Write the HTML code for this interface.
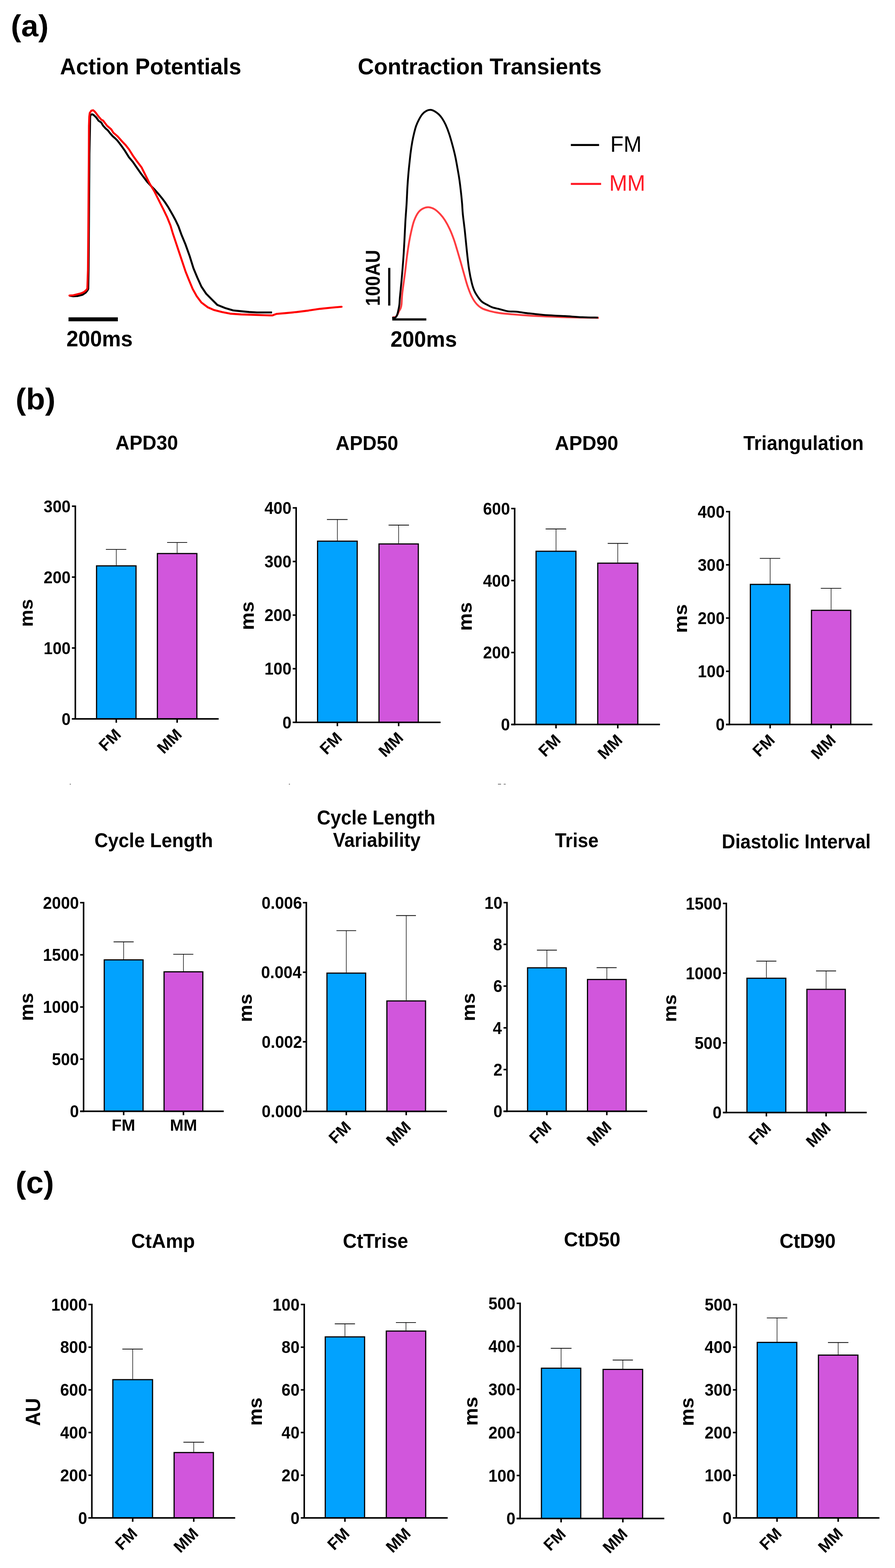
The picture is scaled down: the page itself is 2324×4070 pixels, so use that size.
<!DOCTYPE html>
<html><head><meta charset="utf-8"><title>Figure</title>
<style>
html,body{margin:0;padding:0;background:#fff;}
svg{display:block;}
text{font-family:'Liberation Sans', Arial, sans-serif;fill:#000;font-size:100px;}
text.b{font-weight:bold;}
text.r{font-weight:normal;}
</style></head>
<body>
<svg width="2324" height="4070" viewBox="0 0 2324 4070">
<rect width="2324" height="4070" fill="#fff"/>
<text class="b" transform="translate(28.19 93.55) scale(0.8021 0.7814)">(a)</text>
<text class="b" transform="translate(40.44 1062.83) scale(0.8114 0.7728)">(b)</text>
<text class="b" transform="translate(40.52 3097.35) scale(0.8164 0.7910)">(c)</text>
<text class="b" transform="translate(155.76 193.21) scale(0.5765 0.5891)">Action Potentials</text>
<text class="b" transform="translate(928.91 192.91) scale(0.5817 0.5918)">Contraction Transients</text>
<polyline points="180,767.5 190,769 201,768.5 214.6,765 222,760 227,754 229.1,750 230,700 231.1,560 232.2,400 233.5,340 234,305 234.5,300 236.5,297.5 238.9,296.6 241.5,297.5 244.6,299.7 249.6,304.6 256.2,313.7 262.8,317.8 267.7,326.1 274.3,333.5 280.1,338.4 285.8,345.8 292.4,353.3 299,359 304.8,364.8 308.9,370 314.2,377.1 324.5,391.6 334.8,408.1 345.1,420.4 355.5,435.5 364.8,448.9 372,458.5 381.3,470.9 391.5,482 402.2,492.9 411.5,503.5 420.9,514.8 428.5,525 436.3,536.8 442.5,547.5 448.9,558.8 455.5,571 463.3,587.4 471.5,610.1 481.8,634.8 492.1,663.6 502.4,696.6 512.7,721.3 523,744 535.4,762.5 549.8,777 564.2,791.4 584.8,799.6 605.5,805.8 626.1,807.9 646.7,809.9 667.3,811 706.4,811" fill="none" stroke="#000" stroke-width="5.1" stroke-linejoin="round" stroke-linecap="butt"/>
<polyline points="180.3,767 190,766.5 200,764 210,761.5 218,758 224,753 226.8,749 228.4,700 229.6,560 230.7,400 231,327.7 231.8,303 233.1,293.1 237.2,287.3 241.7,286.1 245.4,289 249.6,293.9 253.7,299.7 257.8,304.6 262.8,310.4 267.7,312.9 272.7,319.5 277.6,326.1 283.4,331 289.1,336 294.1,344.2 299.9,349.1 305.6,354.1 311.4,360.7 317.2,367.3 326.6,377.1 334.8,387.5 345.1,403.9 355.5,418.4 367.8,434.8 378.1,455.5 388.4,476.1 400.8,496.7 409,513.1 421.4,537.9 424.1,543.1 434.4,564.7 442.7,585.3 448.8,605.9 457.1,630.7 465.3,655.4 473.6,680.1 481.8,704.8 490.1,725.5 500.4,750.2 510.7,768.7 523,785.2 539.5,797.6 556,804.8 576.6,809.9 597.2,814.1 626.1,816.1 657,817.1 687.9,818.2 700,818.6 707.2,818.8 712,816.8 717.8,814.8 740.4,812.9 770.7,809.9 800.9,806.1 831.1,801.6 861.3,798.5 887,796.3" fill="none" stroke="#FF0000" stroke-width="5.1" stroke-linejoin="round" stroke-linecap="round"/>
<path d="M1019.6,823.6 C1020.83,823.42 1024.93,823.6 1027,822.5 C1029.07,821.4 1030.5,819.42 1032,817 C1033.5,814.58 1034.63,810.78 1036,808 C1037.37,805.22 1039.1,803.3 1040.2,800.3 C1041.3,797.3 1041.87,796.55 1042.6,790 C1043.33,783.45 1043.07,774.75 1044.6,761 C1046.13,747.25 1049.72,723.85 1051.8,707.5 C1053.88,691.15 1055.32,676.3 1057.1,662.9 C1058.88,649.5 1060.7,637.52 1062.5,627.1 C1064.3,616.68 1065.82,609.32 1067.9,600.4 C1069.98,591.48 1072.03,581.65 1075,573.6 C1077.97,565.55 1081.83,557.47 1085.7,552.1 C1089.57,546.73 1093.73,543.77 1098.2,541.4 C1102.67,539.03 1107.43,537.6 1112.5,537.9 C1117.57,538.2 1123.53,540.23 1128.6,543.2 C1133.67,546.17 1138.43,550.93 1142.9,555.7 C1147.37,560.47 1151.23,565.25 1155.4,571.8 C1159.57,578.35 1164.03,586.67 1167.9,595 C1171.77,603.33 1175.33,612.57 1178.6,621.8 C1181.87,631.03 1184.53,640.58 1187.5,650.4 C1190.47,660.22 1193.42,670.28 1196.4,680.7 C1199.38,691.12 1202.42,702.48 1205.4,712.9 C1208.38,723.32 1211.03,733.68 1214.3,743.2 C1217.57,752.72 1221.13,762.37 1225,770 C1228.87,777.63 1233,783.92 1237.5,789 C1242,794.08 1245.92,797.33 1252,800.5 C1258.08,803.67 1266.55,806 1274,808 C1281.45,810 1287.25,811.18 1296.7,812.5 C1306.15,813.82 1317.48,814.77 1330.7,815.9 C1343.92,817.03 1360.9,818.35 1376,819.3 C1391.1,820.25 1406.18,820.92 1421.3,821.6 C1436.42,822.28 1451.58,822.95 1466.7,823.4 C1481.82,823.85 1497.28,824.03 1512,824.3 C1526.72,824.57 1547.83,824.88 1555,825" fill="none" stroke="#FF3C40" stroke-width="4.8"/>
<path d="M1018.2,824.8 C1019.5,824.75 1024.12,825.13 1026,824.5 C1027.88,823.87 1028.45,822.75 1029.5,821 C1030.55,819.25 1031.32,817.45 1032.3,814 C1033.28,810.55 1034.6,804.3 1035.4,800.3 C1036.2,796.3 1036.6,794.72 1037.1,790 C1037.6,785.28 1037.43,782.77 1038.4,772 C1039.37,761.23 1041.42,742.1 1042.9,725.4 C1044.38,708.7 1046.12,688.18 1047.3,671.8 C1048.48,655.42 1049.1,643.47 1050,627.1 C1050.9,610.73 1051.75,589.78 1052.7,573.6 C1053.65,557.42 1054.82,544.88 1055.7,530 C1056.58,515.12 1057.17,497.87 1058,484.3 C1058.83,470.73 1059.8,459.02 1060.7,448.6 C1061.6,438.18 1062.45,430.73 1063.4,421.8 C1064.35,412.87 1065.22,403.93 1066.4,395 C1067.58,386.07 1069.07,376.23 1070.5,368.2 C1071.93,360.17 1073.35,353.65 1075,346.8 C1076.65,339.95 1078.32,333.05 1080.4,327.1 C1082.48,321.15 1084.83,316.15 1087.5,311.1 C1090.17,306.05 1093.13,300.67 1096.4,296.8 C1099.67,292.93 1103.52,289.83 1107.1,287.9 C1110.68,285.97 1114.32,285.05 1117.9,285.2 C1121.48,285.35 1125.03,286.87 1128.6,288.8 C1132.17,290.73 1136.03,293.68 1139.3,296.8 C1142.57,299.92 1145.23,303.03 1148.2,307.5 C1151.17,311.97 1154.12,317.05 1157.1,323.6 C1160.08,330.15 1163.12,337.88 1166.1,346.8 C1169.08,355.72 1172.33,367.28 1175,377.1 C1177.67,386.92 1180.02,396.17 1182.1,405.7 C1184.18,415.23 1185.7,424.18 1187.5,434.3 C1189.3,444.42 1191.27,455.1 1192.9,466.4 C1194.53,477.7 1196.12,491.5 1197.3,502.1 C1198.48,512.7 1199.25,521.07 1200,530 C1200.75,538.93 1200.62,543.97 1201.8,555.7 C1202.98,567.43 1205.32,584.03 1207.1,600.4 C1208.88,616.77 1210.7,637.53 1212.5,653.9 C1214.3,670.27 1215.82,685.2 1217.9,698.6 C1219.98,712 1222.63,724.78 1225,734.3 C1227.37,743.82 1229.27,749.42 1232.1,755.7 C1234.93,761.98 1238.8,767.43 1242,772 C1245.2,776.57 1247.85,780.12 1251.3,783.1 C1254.75,786.08 1258.17,787.45 1262.7,789.9 C1267.23,792.35 1272.83,795.73 1278.5,797.8 C1284.17,799.87 1289.9,800.6 1296.7,802.3 C1303.5,804 1311.75,806.87 1319.3,808 C1326.85,809.13 1334.43,808.35 1342,809.1 C1349.57,809.85 1357.15,811.55 1364.7,812.5 C1372.25,813.45 1377.87,813.85 1387.3,814.8 C1396.73,815.75 1408.07,817.25 1421.3,818.2 C1434.53,819.15 1451.58,819.63 1466.7,820.5 C1481.82,821.37 1497.65,822.77 1512,823.4 C1526.35,824.03 1546,824.15 1552.8,824.3" fill="none" stroke="#000" stroke-width="4.8"/>
<rect x="177.9" y="823.7" width="128.1" height="10.3" fill="#000"/>
<text class="b" transform="translate(172.46 899.42) scale(0.5530 0.5819)">200ms</text>
<rect x="1007.9" y="695.4" width="5.7" height="97.8" fill="#000"/>
<rect x="1018.6" y="826.3" width="88.4" height="5.7" fill="#000"/>
<text class="b" transform="translate(1013.96 900.12) scale(0.5543 0.5805)">200ms</text>
<text class="b" transform="translate(986.29 794.35) rotate(-90) scale(0.4677 0.5099)">100AU</text>
<line x1="1482.3" y1="376.3" x2="1555.6" y2="376.3" stroke="#000" stroke-width="5.3"/>
<text class="r" transform="translate(1584.79 394) scale(0.5625 0.5828)">FM</text>
<line x1="1482.3" y1="477.3" x2="1560.9" y2="477.3" stroke="#FF1A26" stroke-width="5.3"/>
<text class="r" transform="translate(1581.99 494.8) scale(0.5619 0.5814)" style="fill:#FF1A26">MM</text>
<text class="b" transform="translate(299.84 1166.7) scale(0.5041 0.5140)">APD30</text>
<line x1="301.95" y1="1467.3" x2="301.95" y2="1426.1" stroke="#000" stroke-width="1.4"/>
<line x1="274.9" y1="1426.1" x2="327.9" y2="1426.1" stroke="#000" stroke-width="1.9"/>
<rect x="250.7" y="1468.8" width="102.5" height="397.2" fill="#02A2FE" stroke="#000" stroke-width="3"/>
<line x1="459.95" y1="1435.3" x2="459.95" y2="1408.1" stroke="#000" stroke-width="1.4"/>
<line x1="434" y1="1408.1" x2="486.1" y2="1408.1" stroke="#000" stroke-width="1.9"/>
<rect x="408.7" y="1436.8" width="102.5" height="429.2" fill="#D156DC" stroke="#000" stroke-width="3"/>
<line x1="195.6" y1="1311.9" x2="195.6" y2="1868" stroke="#000" stroke-width="4.0"/>
<line x1="186.7" y1="1313.9" x2="195.6" y2="1313.9" stroke="#000" stroke-width="4.0"/>
<text class="b" transform="translate(113.37 1329.54) scale(0.42 0.435)">300</text>
<line x1="186.7" y1="1497.93" x2="195.6" y2="1497.93" stroke="#000" stroke-width="4.0"/>
<text class="b" transform="translate(113.37 1513.6) scale(0.42 0.435)">200</text>
<line x1="186.7" y1="1681.97" x2="195.6" y2="1681.97" stroke="#000" stroke-width="4.0"/>
<text class="b" transform="translate(113.37 1697.63) scale(0.42 0.435)">100</text>
<line x1="186.7" y1="1866" x2="195.6" y2="1866" stroke="#000" stroke-width="4.0"/>
<text class="b" transform="translate(160.07 1881.66) scale(0.42 0.435)">0</text>
<line x1="186.7" y1="1866" x2="567.8" y2="1866" stroke="#000" stroke-width="4.0"/>
<line x1="301.95" y1="1866" x2="301.95" y2="1876" stroke="#000" stroke-width="4.0"/>
<text x="316.65" y="1909.2" text-anchor="end" class="b" style="font-size:42px" transform="rotate(-45 316.65 1909.2)">FM</text>
<line x1="459.95" y1="1866" x2="459.95" y2="1876" stroke="#000" stroke-width="4.0"/>
<text x="474.65" y="1909.2" text-anchor="end" class="b" style="font-size:42px" transform="rotate(-45 474.65 1909.2)">MM</text>
<text class="b" transform="translate(85.41 1627.21) rotate(-90) scale(0.5015 0.4900)">ms</text>
<text class="b" transform="translate(871.54 1167.6) scale(0.5041 0.5140)">APD50</text>
<line x1="876.05" y1="1403.2" x2="876.05" y2="1348.5" stroke="#000" stroke-width="1.4"/>
<line x1="848.9" y1="1348.5" x2="902.5" y2="1348.5" stroke="#000" stroke-width="1.9"/>
<rect x="824.6" y="1404.7" width="102.9" height="470.2" fill="#02A2FE" stroke="#000" stroke-width="3"/>
<line x1="1035.15" y1="1410.4" x2="1035.15" y2="1363" stroke="#000" stroke-width="1.4"/>
<line x1="1009" y1="1363" x2="1062" y2="1363" stroke="#000" stroke-width="1.9"/>
<rect x="984.1" y="1411.9" width="102.1" height="463" fill="#D156DC" stroke="#000" stroke-width="3"/>
<line x1="769" y1="1316.3" x2="769" y2="1876.9" stroke="#000" stroke-width="4.0"/>
<line x1="760.1" y1="1318.3" x2="769" y2="1318.3" stroke="#000" stroke-width="4.0"/>
<text class="b" transform="translate(686.77 1333.96) scale(0.42 0.435)">400</text>
<line x1="760.1" y1="1457.45" x2="769" y2="1457.45" stroke="#000" stroke-width="4.0"/>
<text class="b" transform="translate(686.77 1473.09) scale(0.42 0.435)">300</text>
<line x1="760.1" y1="1596.6" x2="769" y2="1596.6" stroke="#000" stroke-width="4.0"/>
<text class="b" transform="translate(686.77 1612.26) scale(0.42 0.435)">200</text>
<line x1="760.1" y1="1735.75" x2="769" y2="1735.75" stroke="#000" stroke-width="4.0"/>
<text class="b" transform="translate(686.77 1751.41) scale(0.42 0.435)">100</text>
<line x1="760.1" y1="1874.9" x2="769" y2="1874.9" stroke="#000" stroke-width="4.0"/>
<text class="b" transform="translate(733.47 1890.56) scale(0.42 0.435)">0</text>
<line x1="760.1" y1="1874.9" x2="1144" y2="1874.9" stroke="#000" stroke-width="4.0"/>
<line x1="876.05" y1="1874.9" x2="876.05" y2="1884.9" stroke="#000" stroke-width="4.0"/>
<text x="890.75" y="1918.1" text-anchor="end" class="b" style="font-size:42px" transform="rotate(-45 890.75 1918.1)">FM</text>
<line x1="1035.15" y1="1874.9" x2="1035.15" y2="1884.9" stroke="#000" stroke-width="4.0"/>
<text x="1049.85" y="1918.1" text-anchor="end" class="b" style="font-size:42px" transform="rotate(-45 1049.85 1918.1)">MM</text>
<text class="b" transform="translate(658.5 1635.61) rotate(-90) scale(0.5164 0.5046)">ms</text>
<text class="b" transform="translate(1440.82 1167.9) scale(0.5104 0.5140)">APD90</text>
<line x1="1443.75" y1="1429.4" x2="1443.75" y2="1373" stroke="#000" stroke-width="1.4"/>
<line x1="1416.8" y1="1373" x2="1470" y2="1373" stroke="#000" stroke-width="1.9"/>
<rect x="1392" y="1430.9" width="103.5" height="449.7" fill="#02A2FE" stroke="#000" stroke-width="3"/>
<line x1="1604.15" y1="1460.3" x2="1604.15" y2="1410.5" stroke="#000" stroke-width="1.4"/>
<line x1="1578" y1="1410.5" x2="1631.1" y2="1410.5" stroke="#000" stroke-width="1.9"/>
<rect x="1552.1" y="1461.8" width="104.1" height="418.8" fill="#D156DC" stroke="#000" stroke-width="3"/>
<line x1="1336.4" y1="1318" x2="1336.4" y2="1882.6" stroke="#000" stroke-width="4.0"/>
<line x1="1327.5" y1="1320" x2="1336.4" y2="1320" stroke="#000" stroke-width="4.0"/>
<text class="b" transform="translate(1254.17 1335.66) scale(0.42 0.435)">600</text>
<line x1="1327.5" y1="1506.87" x2="1336.4" y2="1506.87" stroke="#000" stroke-width="4.0"/>
<text class="b" transform="translate(1254.17 1522.53) scale(0.42 0.435)">400</text>
<line x1="1327.5" y1="1693.73" x2="1336.4" y2="1693.73" stroke="#000" stroke-width="4.0"/>
<text class="b" transform="translate(1254.17 1709.4) scale(0.42 0.435)">200</text>
<line x1="1327.5" y1="1880.6" x2="1336.4" y2="1880.6" stroke="#000" stroke-width="4.0"/>
<text class="b" transform="translate(1300.87 1896.26) scale(0.42 0.435)">0</text>
<line x1="1327.5" y1="1880.6" x2="1713.7" y2="1880.6" stroke="#000" stroke-width="4.0"/>
<line x1="1443.75" y1="1880.6" x2="1443.75" y2="1890.6" stroke="#000" stroke-width="4.0"/>
<text x="1458.45" y="1923.8" text-anchor="end" class="b" style="font-size:42px" transform="rotate(-45 1458.45 1923.8)">FM</text>
<line x1="1604.15" y1="1880.6" x2="1604.15" y2="1890.6" stroke="#000" stroke-width="4.0"/>
<text x="1618.85" y="1923.8" text-anchor="end" class="b" style="font-size:42px" transform="rotate(-45 1618.85 1923.8)">MM</text>
<text class="b" transform="translate(1224.8 1637.61) rotate(-90) scale(0.5164 0.4954)">ms</text>
<text class="b" transform="translate(1930.35 1168) scale(0.4975 0.5140)">Triangulation</text>
<line x1="1999.75" y1="1515.4" x2="1999.75" y2="1449.4" stroke="#000" stroke-width="1.4"/>
<line x1="1972.9" y1="1449.4" x2="2026" y2="1449.4" stroke="#000" stroke-width="1.9"/>
<rect x="1948.4" y="1516.9" width="102.7" height="363.7" fill="#02A2FE" stroke="#000" stroke-width="3"/>
<line x1="2158.1" y1="1582.7" x2="2158.1" y2="1527.1" stroke="#000" stroke-width="1.4"/>
<line x1="2131.3" y1="1527.1" x2="2184.5" y2="1527.1" stroke="#000" stroke-width="1.9"/>
<rect x="2107.1" y="1584.2" width="102" height="296.4" fill="#D156DC" stroke="#000" stroke-width="3"/>
<line x1="1894" y1="1326" x2="1894" y2="1882.6" stroke="#000" stroke-width="4.0"/>
<line x1="1885.1" y1="1328" x2="1894" y2="1328" stroke="#000" stroke-width="4.0"/>
<text class="b" transform="translate(1811.77 1343.66) scale(0.42 0.435)">400</text>
<line x1="1885.1" y1="1466.15" x2="1894" y2="1466.15" stroke="#000" stroke-width="4.0"/>
<text class="b" transform="translate(1811.77 1481.79) scale(0.42 0.435)">300</text>
<line x1="1885.1" y1="1604.3" x2="1894" y2="1604.3" stroke="#000" stroke-width="4.0"/>
<text class="b" transform="translate(1811.77 1619.96) scale(0.42 0.435)">200</text>
<line x1="1885.1" y1="1742.45" x2="1894" y2="1742.45" stroke="#000" stroke-width="4.0"/>
<text class="b" transform="translate(1811.77 1758.11) scale(0.42 0.435)">100</text>
<line x1="1885.1" y1="1880.6" x2="1894" y2="1880.6" stroke="#000" stroke-width="4.0"/>
<text class="b" transform="translate(1858.47 1896.26) scale(0.42 0.435)">0</text>
<line x1="1885.1" y1="1880.6" x2="2265.3" y2="1880.6" stroke="#000" stroke-width="4.0"/>
<line x1="1999.75" y1="1880.6" x2="1999.75" y2="1890.6" stroke="#000" stroke-width="4.0"/>
<text x="2014.45" y="1923.8" text-anchor="end" class="b" style="font-size:42px" transform="rotate(-45 2014.45 1923.8)">FM</text>
<line x1="2158.1" y1="1880.6" x2="2158.1" y2="1890.6" stroke="#000" stroke-width="4.0"/>
<text x="2172.8" y="1923.8" text-anchor="end" class="b" style="font-size:42px" transform="rotate(-45 2172.8 1923.8)">MM</text>
<text class="b" transform="translate(1784.12 1643.01) rotate(-90) scale(0.5172 0.4809)">ms</text>
<text class="b" transform="translate(245.19 2198.9) scale(0.4903 0.5140)">Cycle Length</text>
<line x1="321.1" y1="2490" x2="321.1" y2="2444.7" stroke="#000" stroke-width="1.4"/>
<line x1="294.9" y1="2444.7" x2="347.1" y2="2444.7" stroke="#000" stroke-width="1.9"/>
<rect x="270.7" y="2491.5" width="100.8" height="393.1" fill="#02A2FE" stroke="#000" stroke-width="3"/>
<line x1="476.35" y1="2521" x2="476.35" y2="2476.9" stroke="#000" stroke-width="1.4"/>
<line x1="449.9" y1="2476.9" x2="502" y2="2476.9" stroke="#000" stroke-width="1.9"/>
<rect x="426" y="2522.5" width="100.7" height="362.1" fill="#D156DC" stroke="#000" stroke-width="3"/>
<line x1="217.05" y1="2341" x2="217.05" y2="2886.6" stroke="#000" stroke-width="4.0"/>
<line x1="208.15" y1="2343" x2="217.05" y2="2343" stroke="#000" stroke-width="4.0"/>
<text class="b" transform="translate(111.46 2358.66) scale(0.42 0.435)">2000</text>
<line x1="208.15" y1="2478.4" x2="217.05" y2="2478.4" stroke="#000" stroke-width="4.0"/>
<text class="b" transform="translate(111.46 2494.06) scale(0.42 0.435)">1500</text>
<line x1="208.15" y1="2613.8" x2="217.05" y2="2613.8" stroke="#000" stroke-width="4.0"/>
<text class="b" transform="translate(111.46 2629.46) scale(0.42 0.435)">1000</text>
<line x1="208.15" y1="2749.2" x2="217.05" y2="2749.2" stroke="#000" stroke-width="4.0"/>
<text class="b" transform="translate(134.82 2764.86) scale(0.42 0.435)">500</text>
<line x1="208.15" y1="2884.6" x2="217.05" y2="2884.6" stroke="#000" stroke-width="4.0"/>
<text class="b" transform="translate(181.52 2900.26) scale(0.42 0.435)">0</text>
<line x1="208.15" y1="2884.6" x2="581" y2="2884.6" stroke="#000" stroke-width="4.0"/>
<line x1="321.1" y1="2884.6" x2="321.1" y2="2894.6" stroke="#000" stroke-width="4.0"/>
<text class="b" transform="translate(289.76 2934.6) scale(0.4244 0.4200)">FM</text>
<line x1="476.35" y1="2884.6" x2="476.35" y2="2894.6" stroke="#000" stroke-width="4.0"/>
<text class="b" transform="translate(441.37 2934.6) scale(0.4230 0.4200)">MM</text>
<text class="b" transform="translate(85.7 2650.35) rotate(-90) scale(0.5082 0.4973)">ms</text>
<text class="b" transform="translate(822.99 2139.6) scale(0.4898 0.5140)">Cycle Length</text>
<text class="b" transform="translate(864.86 2198.1) scale(0.4809 0.5140)">Variability</text>
<line x1="899.25" y1="2524.4" x2="899.25" y2="2415.6" stroke="#000" stroke-width="1.4"/>
<line x1="873.7" y1="2415.6" x2="924.8" y2="2415.6" stroke="#000" stroke-width="1.9"/>
<rect x="849" y="2525.9" width="100.5" height="358.8" fill="#02A2FE" stroke="#000" stroke-width="3"/>
<line x1="1054.8" y1="2596.6" x2="1054.8" y2="2376.5" stroke="#000" stroke-width="1.4"/>
<line x1="1028.4" y1="2376.5" x2="1080" y2="2376.5" stroke="#000" stroke-width="1.9"/>
<rect x="1004.6" y="2598.1" width="100.4" height="286.6" fill="#D156DC" stroke="#000" stroke-width="3"/>
<line x1="795.4" y1="2341" x2="795.4" y2="2886.7" stroke="#000" stroke-width="4.0"/>
<line x1="786.5" y1="2343" x2="795.4" y2="2343" stroke="#000" stroke-width="4.0"/>
<text class="b" transform="translate(679.23 2358.66) scale(0.42 0.435)">0.006</text>
<line x1="786.5" y1="2523.57" x2="795.4" y2="2523.57" stroke="#000" stroke-width="4.0"/>
<text class="b" transform="translate(677.93 2539.23) scale(0.42 0.435)">0.004</text>
<line x1="786.5" y1="2704.13" x2="795.4" y2="2704.13" stroke="#000" stroke-width="4.0"/>
<text class="b" transform="translate(679.4 2719.8) scale(0.42 0.435)">0.002</text>
<line x1="786.5" y1="2884.7" x2="795.4" y2="2884.7" stroke="#000" stroke-width="4.0"/>
<text class="b" transform="translate(679.44 2900.36) scale(0.42 0.435)">0.000</text>
<line x1="786.5" y1="2884.7" x2="1160.4" y2="2884.7" stroke="#000" stroke-width="4.0"/>
<line x1="899.25" y1="2884.7" x2="899.25" y2="2894.7" stroke="#000" stroke-width="4.0"/>
<text x="913.95" y="2927.9" text-anchor="end" class="b" style="font-size:42px" transform="rotate(-45 913.95 2927.9)">FM</text>
<line x1="1054.8" y1="2884.7" x2="1054.8" y2="2894.7" stroke="#000" stroke-width="4.0"/>
<text x="1069.5" y="2927.9" text-anchor="end" class="b" style="font-size:42px" transform="rotate(-45 1069.5 2927.9)">MM</text>
<text class="b" transform="translate(653.92 2652.95) rotate(-90) scale(0.5082 0.4809)">ms</text>
<text class="b" transform="translate(1441.17 2198.8) scale(0.4843 0.5140)">Trise</text>
<line x1="1420.1" y1="2510.6" x2="1420.1" y2="2466.3" stroke="#000" stroke-width="1.4"/>
<line x1="1394.2" y1="2466.3" x2="1446.1" y2="2466.3" stroke="#000" stroke-width="1.9"/>
<rect x="1369.9" y="2512.1" width="100.4" height="372.5" fill="#02A2FE" stroke="#000" stroke-width="3"/>
<line x1="1575.7" y1="2540.9" x2="1575.7" y2="2511.7" stroke="#000" stroke-width="1.4"/>
<line x1="1549.3" y1="2511.7" x2="1601.2" y2="2511.7" stroke="#000" stroke-width="1.9"/>
<rect x="1525.5" y="2542.4" width="100.4" height="342.2" fill="#D156DC" stroke="#000" stroke-width="3"/>
<line x1="1316.4" y1="2340.9" x2="1316.4" y2="2886.6" stroke="#000" stroke-width="4.0"/>
<line x1="1307.5" y1="2342.9" x2="1316.4" y2="2342.9" stroke="#000" stroke-width="4.0"/>
<text class="b" transform="translate(1257.92 2358.56) scale(0.42 0.435)">10</text>
<line x1="1307.5" y1="2451.24" x2="1316.4" y2="2451.24" stroke="#000" stroke-width="4.0"/>
<text class="b" transform="translate(1280.85 2466.9) scale(0.42 0.435)">8</text>
<line x1="1307.5" y1="2559.58" x2="1316.4" y2="2559.58" stroke="#000" stroke-width="4.0"/>
<text class="b" transform="translate(1281.06 2575.24) scale(0.42 0.435)">6</text>
<line x1="1307.5" y1="2667.92" x2="1316.4" y2="2667.92" stroke="#000" stroke-width="4.0"/>
<text class="b" transform="translate(1279.76 2683.58) scale(0.42 0.435)">4</text>
<line x1="1307.5" y1="2776.26" x2="1316.4" y2="2776.26" stroke="#000" stroke-width="4.0"/>
<text class="b" transform="translate(1281.23 2792.14) scale(0.42 0.435)">2</text>
<line x1="1307.5" y1="2884.6" x2="1316.4" y2="2884.6" stroke="#000" stroke-width="4.0"/>
<text class="b" transform="translate(1281.27 2900.26) scale(0.42 0.435)">0</text>
<line x1="1307.5" y1="2884.6" x2="1680.4" y2="2884.6" stroke="#000" stroke-width="4.0"/>
<line x1="1420.1" y1="2884.6" x2="1420.1" y2="2894.6" stroke="#000" stroke-width="4.0"/>
<text x="1434.8" y="2927.8" text-anchor="end" class="b" style="font-size:42px" transform="rotate(-45 1434.8 2927.8)">FM</text>
<line x1="1575.7" y1="2884.6" x2="1575.7" y2="2894.6" stroke="#000" stroke-width="4.0"/>
<text x="1590.4" y="2927.8" text-anchor="end" class="b" style="font-size:42px" transform="rotate(-45 1590.4 2927.8)">MM</text>
<text class="b" transform="translate(1232.82 2650.85) rotate(-90) scale(0.5082 0.4827)">ms</text>
<text class="b" transform="translate(1874.26 2201.7) scale(0.4835 0.5140)">Diastolic Interval</text>
<line x1="1990.05" y1="2537.7" x2="1990.05" y2="2494.8" stroke="#000" stroke-width="1.4"/>
<line x1="1963.9" y1="2494.8" x2="2016" y2="2494.8" stroke="#000" stroke-width="1.9"/>
<rect x="1939.6" y="2539.2" width="100.9" height="348.6" fill="#02A2FE" stroke="#000" stroke-width="3"/>
<line x1="2145.1" y1="2566.5" x2="2145.1" y2="2520.2" stroke="#000" stroke-width="1.4"/>
<line x1="2119" y1="2520.2" x2="2171" y2="2520.2" stroke="#000" stroke-width="1.9"/>
<rect x="2095.2" y="2568" width="99.8" height="319.8" fill="#D156DC" stroke="#000" stroke-width="3"/>
<line x1="1886" y1="2343" x2="1886" y2="2889.8" stroke="#000" stroke-width="4.0"/>
<line x1="1877.1" y1="2345" x2="1886" y2="2345" stroke="#000" stroke-width="4.0"/>
<text class="b" transform="translate(1780.41 2360.66) scale(0.42 0.435)">1500</text>
<line x1="1877.1" y1="2525.93" x2="1886" y2="2525.93" stroke="#000" stroke-width="4.0"/>
<text class="b" transform="translate(1780.41 2541.6) scale(0.42 0.435)">1000</text>
<line x1="1877.1" y1="2706.87" x2="1886" y2="2706.87" stroke="#000" stroke-width="4.0"/>
<text class="b" transform="translate(1803.77 2722.53) scale(0.42 0.435)">500</text>
<line x1="1877.1" y1="2887.8" x2="1886" y2="2887.8" stroke="#000" stroke-width="4.0"/>
<text class="b" transform="translate(1850.47 2903.46) scale(0.42 0.435)">0</text>
<line x1="1877.1" y1="2887.8" x2="2250.6" y2="2887.8" stroke="#000" stroke-width="4.0"/>
<line x1="1990.05" y1="2887.8" x2="1990.05" y2="2897.8" stroke="#000" stroke-width="4.0"/>
<text x="2004.75" y="2931" text-anchor="end" class="b" style="font-size:42px" transform="rotate(-45 2004.75 2931)">FM</text>
<line x1="2145.1" y1="2887.8" x2="2145.1" y2="2897.8" stroke="#000" stroke-width="4.0"/>
<text x="2159.8" y="2931" text-anchor="end" class="b" style="font-size:42px" transform="rotate(-45 2159.8 2931)">MM</text>
<text class="b" transform="translate(1755.52 2652.98) rotate(-90) scale(0.4970 0.4845)">ms</text>
<text class="b" transform="translate(340.73 3238.9) scale(0.5050 0.5140)">CtAmp</text>
<line x1="344.55" y1="3579.6" x2="344.55" y2="3501.7" stroke="#000" stroke-width="1.4"/>
<line x1="317.7" y1="3501.7" x2="370.8" y2="3501.7" stroke="#000" stroke-width="1.9"/>
<rect x="293" y="3581.1" width="103.1" height="358.9" fill="#02A2FE" stroke="#000" stroke-width="3"/>
<line x1="503.1" y1="3768.8" x2="503.1" y2="3743.5" stroke="#000" stroke-width="1.4"/>
<line x1="476.3" y1="3743.5" x2="529.9" y2="3743.5" stroke="#000" stroke-width="1.9"/>
<rect x="452.1" y="3770.3" width="102" height="169.7" fill="#D156DC" stroke="#000" stroke-width="3"/>
<line x1="238.5" y1="3384" x2="238.5" y2="3942" stroke="#000" stroke-width="4.0"/>
<line x1="229.6" y1="3386" x2="238.5" y2="3386" stroke="#000" stroke-width="4.0"/>
<text class="b" transform="translate(132.91 3401.66) scale(0.42 0.435)">1000</text>
<line x1="229.6" y1="3496.8" x2="238.5" y2="3496.8" stroke="#000" stroke-width="4.0"/>
<text class="b" transform="translate(156.27 3512.46) scale(0.42 0.435)">800</text>
<line x1="229.6" y1="3607.6" x2="238.5" y2="3607.6" stroke="#000" stroke-width="4.0"/>
<text class="b" transform="translate(156.27 3623.26) scale(0.42 0.435)">600</text>
<line x1="229.6" y1="3718.4" x2="238.5" y2="3718.4" stroke="#000" stroke-width="4.0"/>
<text class="b" transform="translate(156.27 3734.06) scale(0.42 0.435)">400</text>
<line x1="229.6" y1="3829.2" x2="238.5" y2="3829.2" stroke="#000" stroke-width="4.0"/>
<text class="b" transform="translate(156.27 3844.86) scale(0.42 0.435)">200</text>
<line x1="229.6" y1="3940" x2="238.5" y2="3940" stroke="#000" stroke-width="4.0"/>
<text class="b" transform="translate(202.97 3955.66) scale(0.42 0.435)">0</text>
<line x1="229.6" y1="3940" x2="610.7" y2="3940" stroke="#000" stroke-width="4.0"/>
<line x1="344.55" y1="3940" x2="344.55" y2="3950" stroke="#000" stroke-width="4.0"/>
<text x="359.25" y="3983.2" text-anchor="end" class="b" style="font-size:42px" transform="rotate(-45 359.25 3983.2)">FM</text>
<line x1="503.1" y1="3940" x2="503.1" y2="3950" stroke="#000" stroke-width="4.0"/>
<text x="517.8" y="3983.2" text-anchor="end" class="b" style="font-size:42px" transform="rotate(-45 517.8 3983.2)">MM</text>
<text class="b" transform="translate(104.37 3701.35) rotate(-90) scale(0.5015 0.5287)">AU</text>
<text class="b" transform="translate(890.35 3238.9) scale(0.4998 0.5140)">CtTrise</text>
<line x1="895.65" y1="3468.6" x2="895.65" y2="3436.2" stroke="#000" stroke-width="1.4"/>
<line x1="869.3" y1="3436.2" x2="921.8" y2="3436.2" stroke="#000" stroke-width="1.9"/>
<rect x="844.6" y="3470.1" width="102.1" height="469.9" fill="#02A2FE" stroke="#000" stroke-width="3"/>
<line x1="1054.25" y1="3453.5" x2="1054.25" y2="3432.9" stroke="#000" stroke-width="1.4"/>
<line x1="1028" y1="3432.9" x2="1080.1" y2="3432.9" stroke="#000" stroke-width="1.9"/>
<rect x="1003.1" y="3455" width="102.3" height="485" fill="#D156DC" stroke="#000" stroke-width="3"/>
<line x1="790" y1="3384" x2="790" y2="3942" stroke="#000" stroke-width="4.0"/>
<line x1="781.1" y1="3386" x2="790" y2="3386" stroke="#000" stroke-width="4.0"/>
<text class="b" transform="translate(707.77 3401.66) scale(0.42 0.435)">100</text>
<line x1="781.1" y1="3496.8" x2="790" y2="3496.8" stroke="#000" stroke-width="4.0"/>
<text class="b" transform="translate(731.12 3512.46) scale(0.42 0.435)">80</text>
<line x1="781.1" y1="3607.6" x2="790" y2="3607.6" stroke="#000" stroke-width="4.0"/>
<text class="b" transform="translate(731.12 3623.26) scale(0.42 0.435)">60</text>
<line x1="781.1" y1="3718.4" x2="790" y2="3718.4" stroke="#000" stroke-width="4.0"/>
<text class="b" transform="translate(731.12 3734.06) scale(0.42 0.435)">40</text>
<line x1="781.1" y1="3829.2" x2="790" y2="3829.2" stroke="#000" stroke-width="4.0"/>
<text class="b" transform="translate(731.12 3844.86) scale(0.42 0.435)">20</text>
<line x1="781.1" y1="3940" x2="790" y2="3940" stroke="#000" stroke-width="4.0"/>
<text class="b" transform="translate(754.47 3955.66) scale(0.42 0.435)">0</text>
<line x1="781.1" y1="3940" x2="1162.5" y2="3940" stroke="#000" stroke-width="4.0"/>
<line x1="895.65" y1="3940" x2="895.65" y2="3950" stroke="#000" stroke-width="4.0"/>
<text x="910.35" y="3983.2" text-anchor="end" class="b" style="font-size:42px" transform="rotate(-45 910.35 3983.2)">FM</text>
<line x1="1054.25" y1="3940" x2="1054.25" y2="3950" stroke="#000" stroke-width="4.0"/>
<text x="1068.95" y="3983.2" text-anchor="end" class="b" style="font-size:42px" transform="rotate(-45 1068.95 3983.2)">MM</text>
<text class="b" transform="translate(679.9 3700.85) rotate(-90) scale(0.5082 0.5046)">ms</text>
<text class="b" transform="translate(1464.32 3235) scale(0.5075 0.5140)">CtD50</text>
<line x1="1456.95" y1="3549.9" x2="1456.95" y2="3499.8" stroke="#000" stroke-width="1.4"/>
<line x1="1430.2" y1="3499.8" x2="1484" y2="3499.8" stroke="#000" stroke-width="1.9"/>
<rect x="1405.9" y="3551.4" width="102.1" height="390.2" fill="#02A2FE" stroke="#000" stroke-width="3"/>
<line x1="1617.35" y1="3553" x2="1617.35" y2="3530.3" stroke="#000" stroke-width="1.4"/>
<line x1="1590.9" y1="3530.3" x2="1643.5" y2="3530.3" stroke="#000" stroke-width="1.9"/>
<rect x="1566" y="3554.5" width="102.7" height="387.1" fill="#D156DC" stroke="#000" stroke-width="3"/>
<line x1="1350.5" y1="3381" x2="1350.5" y2="3943.6" stroke="#000" stroke-width="4.0"/>
<line x1="1341.6" y1="3383" x2="1350.5" y2="3383" stroke="#000" stroke-width="4.0"/>
<text class="b" transform="translate(1268.27 3398.66) scale(0.42 0.435)">500</text>
<line x1="1341.6" y1="3494.72" x2="1350.5" y2="3494.72" stroke="#000" stroke-width="4.0"/>
<text class="b" transform="translate(1268.27 3510.38) scale(0.42 0.435)">400</text>
<line x1="1341.6" y1="3606.44" x2="1350.5" y2="3606.44" stroke="#000" stroke-width="4.0"/>
<text class="b" transform="translate(1268.27 3622.08) scale(0.42 0.435)">300</text>
<line x1="1341.6" y1="3718.16" x2="1350.5" y2="3718.16" stroke="#000" stroke-width="4.0"/>
<text class="b" transform="translate(1268.27 3733.82) scale(0.42 0.435)">200</text>
<line x1="1341.6" y1="3829.88" x2="1350.5" y2="3829.88" stroke="#000" stroke-width="4.0"/>
<text class="b" transform="translate(1268.27 3845.54) scale(0.42 0.435)">100</text>
<line x1="1341.6" y1="3941.6" x2="1350.5" y2="3941.6" stroke="#000" stroke-width="4.0"/>
<text class="b" transform="translate(1314.97 3957.26) scale(0.42 0.435)">0</text>
<line x1="1341.6" y1="3941.6" x2="1724.9" y2="3941.6" stroke="#000" stroke-width="4.0"/>
<line x1="1456.95" y1="3941.6" x2="1456.95" y2="3951.6" stroke="#000" stroke-width="4.0"/>
<text x="1471.65" y="3984.8" text-anchor="end" class="b" style="font-size:42px" transform="rotate(-45 1471.65 3984.8)">FM</text>
<line x1="1617.35" y1="3941.6" x2="1617.35" y2="3951.6" stroke="#000" stroke-width="4.0"/>
<text x="1632.05" y="3984.8" text-anchor="end" class="b" style="font-size:42px" transform="rotate(-45 1632.05 3984.8)">MM</text>
<text class="b" transform="translate(1239.8 3700.95) rotate(-90) scale(0.5232 0.4973)">ms</text>
<text class="b" transform="translate(2024.13 3238.8) scale(0.5046 0.5140)">CtD90</text>
<line x1="2017.65" y1="3482.9" x2="2017.65" y2="3420.9" stroke="#000" stroke-width="1.4"/>
<line x1="1991.2" y1="3420.9" x2="2044.4" y2="3420.9" stroke="#000" stroke-width="1.9"/>
<rect x="1966.3" y="3484.4" width="102.7" height="455.6" fill="#02A2FE" stroke="#000" stroke-width="3"/>
<line x1="2176.45" y1="3515.9" x2="2176.45" y2="3484.7" stroke="#000" stroke-width="1.4"/>
<line x1="2149.9" y1="3484.7" x2="2203" y2="3484.7" stroke="#000" stroke-width="1.9"/>
<rect x="2125.2" y="3517.4" width="102.5" height="422.6" fill="#D156DC" stroke="#000" stroke-width="3"/>
<line x1="1912" y1="3384" x2="1912" y2="3942" stroke="#000" stroke-width="4.0"/>
<line x1="1903.1" y1="3386" x2="1912" y2="3386" stroke="#000" stroke-width="4.0"/>
<text class="b" transform="translate(1829.77 3401.66) scale(0.42 0.435)">500</text>
<line x1="1903.1" y1="3496.8" x2="1912" y2="3496.8" stroke="#000" stroke-width="4.0"/>
<text class="b" transform="translate(1829.77 3512.46) scale(0.42 0.435)">400</text>
<line x1="1903.1" y1="3607.6" x2="1912" y2="3607.6" stroke="#000" stroke-width="4.0"/>
<text class="b" transform="translate(1829.77 3623.24) scale(0.42 0.435)">300</text>
<line x1="1903.1" y1="3718.4" x2="1912" y2="3718.4" stroke="#000" stroke-width="4.0"/>
<text class="b" transform="translate(1829.77 3734.06) scale(0.42 0.435)">200</text>
<line x1="1903.1" y1="3829.2" x2="1912" y2="3829.2" stroke="#000" stroke-width="4.0"/>
<text class="b" transform="translate(1829.77 3844.86) scale(0.42 0.435)">100</text>
<line x1="1903.1" y1="3940" x2="1912" y2="3940" stroke="#000" stroke-width="4.0"/>
<text class="b" transform="translate(1876.47 3955.66) scale(0.42 0.435)">0</text>
<line x1="1903.1" y1="3940" x2="2283.6" y2="3940" stroke="#000" stroke-width="4.0"/>
<line x1="2017.65" y1="3940" x2="2017.65" y2="3950" stroke="#000" stroke-width="4.0"/>
<text x="2032.35" y="3983.2" text-anchor="end" class="b" style="font-size:42px" transform="rotate(-45 2032.35 3983.2)">FM</text>
<line x1="2176.45" y1="3940" x2="2176.45" y2="3950" stroke="#000" stroke-width="4.0"/>
<text x="2191.15" y="3983.2" text-anchor="end" class="b" style="font-size:42px" transform="rotate(-45 2191.15 3983.2)">MM</text>
<text class="b" transform="translate(1801.31 3701.69) rotate(-90) scale(0.5142 0.4936)">ms</text>
<rect x="181" y="2034.9" width="3" height="1.1" fill="#000"/>
<rect x="750" y="2034.9" width="3" height="1.1" fill="#000"/>
<rect x="1293" y="2034.9" width="8" height="1.1" fill="#000"/>
<rect x="1308" y="2034.9" width="5" height="1.1" fill="#000"/>
</svg>
</body></html>
